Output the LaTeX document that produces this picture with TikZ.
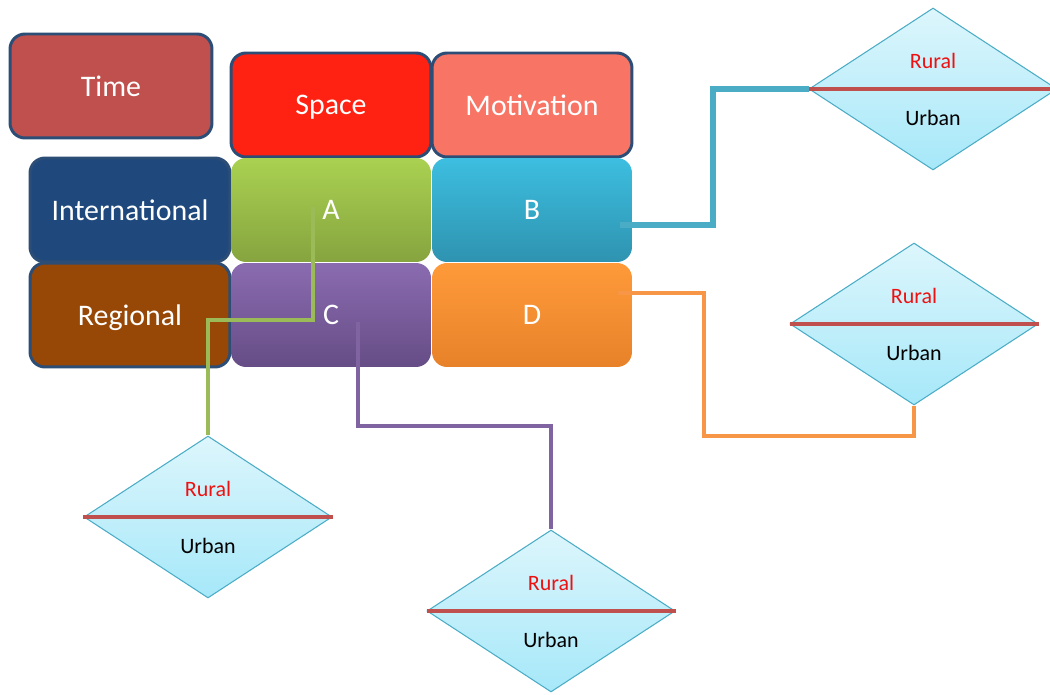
\documentclass[tikz,border=0pt]{standalone}
\usepackage{fontspec}
\setmainfont{Carlito}
\usetikzlibrary{shapes.geometric,calc}
\definecolor{bordblue}{HTML}{2C4D75}
\definecolor{timecol}{HTML}{C0504D}
\definecolor{spacecol}{HTML}{FF2111}
\definecolor{motcol}{HTML}{F87566}
\definecolor{intcol}{HTML}{1F497D}
\definecolor{regcol}{HTML}{974806}
\definecolor{atop}{HTML}{AAD151}\definecolor{abot}{HTML}{86A43F}
\definecolor{btop}{HTML}{3DBEE0}\definecolor{bbot}{HTML}{2E93B0}
\definecolor{ctop}{HTML}{8A6BB0}\definecolor{cbot}{HTML}{664D86}
\definecolor{dtop}{HTML}{FF9A3A}\definecolor{dbot}{HTML}{E8822A}
\definecolor{diatop}{HTML}{DDF6FC}\definecolor{diabot}{HTML}{A6E8F9}
\definecolor{diaedge}{HTML}{4BACC6}
\definecolor{divred}{HTML}{C0504D}
\definecolor{ruralred}{HTML}{EE1111}
\definecolor{gline}{HTML}{9BBB59}
\definecolor{pline}{HTML}{8064A2}
\definecolor{cline}{HTML}{4BACC6}
\definecolor{oline}{HTML}{F79646}
\tikzset{
  box/.style={rectangle, rounded corners=0.3cm, minimum width=4cm, minimum height=2.08cm,
    inner sep=0pt, text depth=0pt, text=white, font=\fontsize{17}{20}\selectfont},
  headbox/.style={box, draw=bordblue, line width=1.7pt},
  shinybox/.style={box, draw=none},
  dia/.style={diamond, minimum width=4.96cm, minimum height=3.24cm, inner sep=0pt,
    draw=diaedge, line width=0.6pt, top color=diatop, bottom color=diabot},
  rurallbl/.style={text=ruralred, font=\fontsize{12.5}{14}\selectfont},
  urbanlbl/.style={text=black, font=\fontsize{12.5}{14}\selectfont},
  divline/.style={draw=divred, line width=2.2pt},
  conn/.style={line width=2pt},
}
\begin{document}
\begin{tikzpicture}[x=0.02cm,y=-0.02cm]
\useasboundingbox (0,0) rectangle (1050,695);
\clip (0,0) rectangle (1050,695);
% header boxes
\node[headbox, fill=timecol, minimum width=4.04cm] (time) at (111,86) {Time};
\node[headbox, fill=spacecol] (space) at (331,105) {Space};
\node[headbox, fill=motcol] (mot) at (532,105) {Motivation};
\node[headbox, fill=intcol] (intl) at (130,210) {International};
\node[headbox, fill=regcol] (reg) at (130,315) {Regional};
% shiny cells
\node[shinybox, top color=atop, bottom color=abot] (A) at (331,210) {A};
\node[shinybox, top color=btop, bottom color=bbot] (B) at (532,210) {B};
\node[shinybox, top color=ctop, bottom color=cbot] (C) at (331,315) {C};
\node[shinybox, top color=dtop, bottom color=dbot] (D) at (532,315) {D};
% diamonds
\node[dia] (d1) at (933,89) {};
\node[dia] (d2) at (914,324) {};
\node[dia] (d3) at (208,517) {};
\node[dia] (d4) at (551,611) {};
\foreach \d in {d1,d2,d3,d4}{
  \draw[divline] (\d.west) -- (\d.east);
  \node[rurallbl] (\d r) at ($(\d)+(0,-28)$) {Rural};
  \node[urbanlbl] (\d u) at ($(\d)+(0,29)$) {Urban};
}
% connector start points
\coordinate (a1) at ($(A)+(-18,-3)$);
\coordinate (c1) at ($(C)+(27,7)$);
\coordinate (b1) at ($(B)+(88,15)$);
\coordinate (dd1) at ($(D)+(86,-22)$);
% connectors
\draw[conn, draw=gline] (a1) -- ++(0,113) -| (d3.north);
\draw[conn, draw=pline] (c1) -- ++(0,104) -| (d4.north);
\draw[conn, draw=cline, line width=3pt] (b1) -- ++(93,0) |- (d1.west);
\draw[conn, draw=oline] (dd1) -- ++(86,0) -- ++(0,143) -| (d2.south);
\end{tikzpicture}
\end{document}
